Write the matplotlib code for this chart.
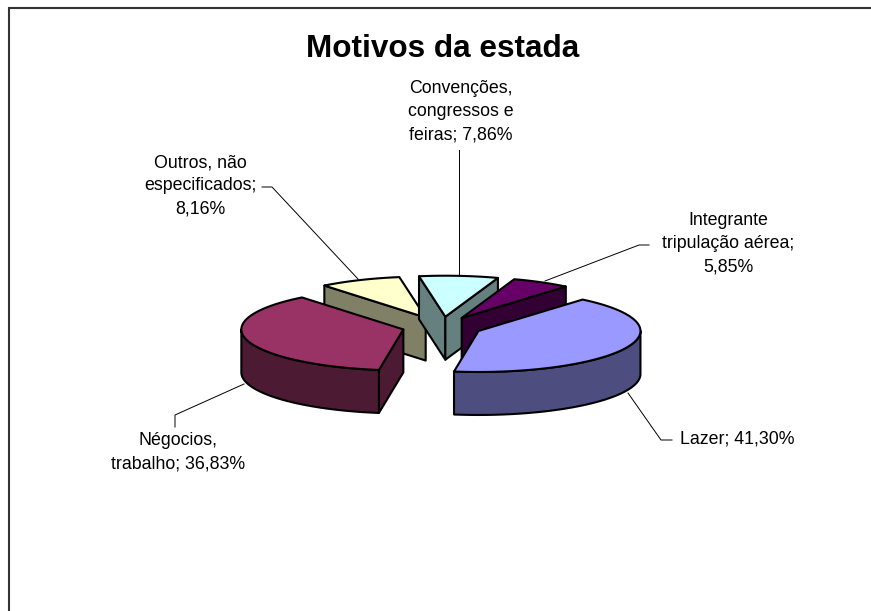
import numpy as np
import matplotlib
matplotlib.use("Agg")
import matplotlib.pyplot as plt
from matplotlib.patches import Polygon

plt.rcParams['font.family'] = ['Liberation Sans', 'DejaVu Sans']

# Data, in chart order (clockwise)
categories = ["Lazer", "Négocios, trabalho", "Outros, não especificados",
              "Convenções, congressos e feiras", "Integrante tripulação aérea"]
shares = [41.30, 36.83, 8.16, 7.86, 5.85]
label_texts = ["Lazer; 41,30%", "Négocios,\ntrabalho; 36,83%",
               "Outros, não\nespecificados;\n8,16%",
               "Convenções,\ncongressos e\nfeiras; 7,86%",
               "Integrante\ntripulação aérea;\n5,85%"]
top_colors = ["#9999FF", "#993366", "#FFFFCC", "#CCFFFF", "#660066"]
wall_colors = ["#4D4D80", "#4D1A33", "#808066", "#668080", "#330033"]
title = "Motivos da estada"

# Layout
W, H = 871, 611
FIRST_ANGLE = 40.0      # degrees clockwise from north
CX, CY, A, B, DEPTH = 442.0, 326.8, 162.0, 41.0, 43.0
EXPLODE = 0.247
DRAW_ORDER = [2, 3, 4, 1, 0]
label_pos = [(737, 439), (178, 452), (200, 186), (461, 112), (728, 244)]
leaders = [
    [(672, 440), (661, 440), (628, 393)],
    [(175, 427), (175, 415), (244, 384)],
    [(262, 187), (272, 187), (358, 279)],
    [(459, 150), (459, 275)],
    [(649, 245), (639, 245), (545, 281)],
]

fig = plt.figure(figsize=(W / 100, H / 100), dpi=100)
ax = fig.add_axes([0, 0, 1, 1])
ax.set_xlim(0, W)
ax.set_ylim(H, 0)
ax.axis("off")

# chart frame: only the top and left sides fall inside the picture
ax.plot([9, 9, W], [H, 7.5, 7.5], color="#333333", lw=1.5, solid_joinstyle="miter")

LW = 1.5
bounds = FIRST_ANGLE + np.concatenate([[0], np.cumsum(shares)]) * 3.6


def rim(center, deg):
    t = np.radians(deg)
    return np.column_stack([center[0] + A * np.sin(t), center[1] - B * np.cos(t)])


def poly(pts, color, z):
    ax.add_patch(Polygon(pts, closed=True, fc=color, ec="black", lw=LW,
                         joinstyle="round", zorder=z))


def cross(u, v):
    return u[0] * v[1] - u[1] * v[0]


down = np.array([0.0, DEPTH])
for rank, i in enumerate(DRAW_ORDER):
    a0, a1 = bounds[i], bounds[i + 1]
    mid = (a0 + a1) / 2
    apex = np.array([CX + EXPLODE * A * np.sin(np.radians(mid)),
                     CY - EXPLODE * B * np.cos(np.radians(mid))])
    arc = rim(apex, np.linspace(a0, a1, 120))
    inner = rim(apex, [mid])[0]
    z = 2 + rank
    # cut faces that look towards the viewer
    for end in (arc[0], arc[-1]):
        v = end - apex
        if np.sign(cross(v, down)) != np.sign(cross(v, inner - apex)):
            poly([apex, end, end + down, apex + down], wall_colors[i], z)
    # outer wall, the part on the near half of the ellipse
    for lo, hi in ((90, 270), (450, 630)):
        s, e = max(a0, lo), min(a1, hi)
        if e > s:
            edge = rim(apex, np.linspace(s, e, 100))
            poly(np.vstack([edge, (edge + down)[::-1]]), wall_colors[i], z)
    poly(np.vstack([[apex], arc]), top_colors[i], z)

ax.text(443, 49, title, ha="center", va="center", fontsize=22.7, fontweight="bold", color="black")

for i in range(len(categories)):
    pts = np.array(leaders[i])
    ax.plot(pts[:, 0], pts[:, 1], color="black", lw=0.7, zorder=1)
    ax.text(*label_pos[i], label_texts[i], ha="center", va="center", fontsize=12.8,
            color="black", linespacing=1.5)

fig.savefig("out.png", dpi=100, facecolor="white")
